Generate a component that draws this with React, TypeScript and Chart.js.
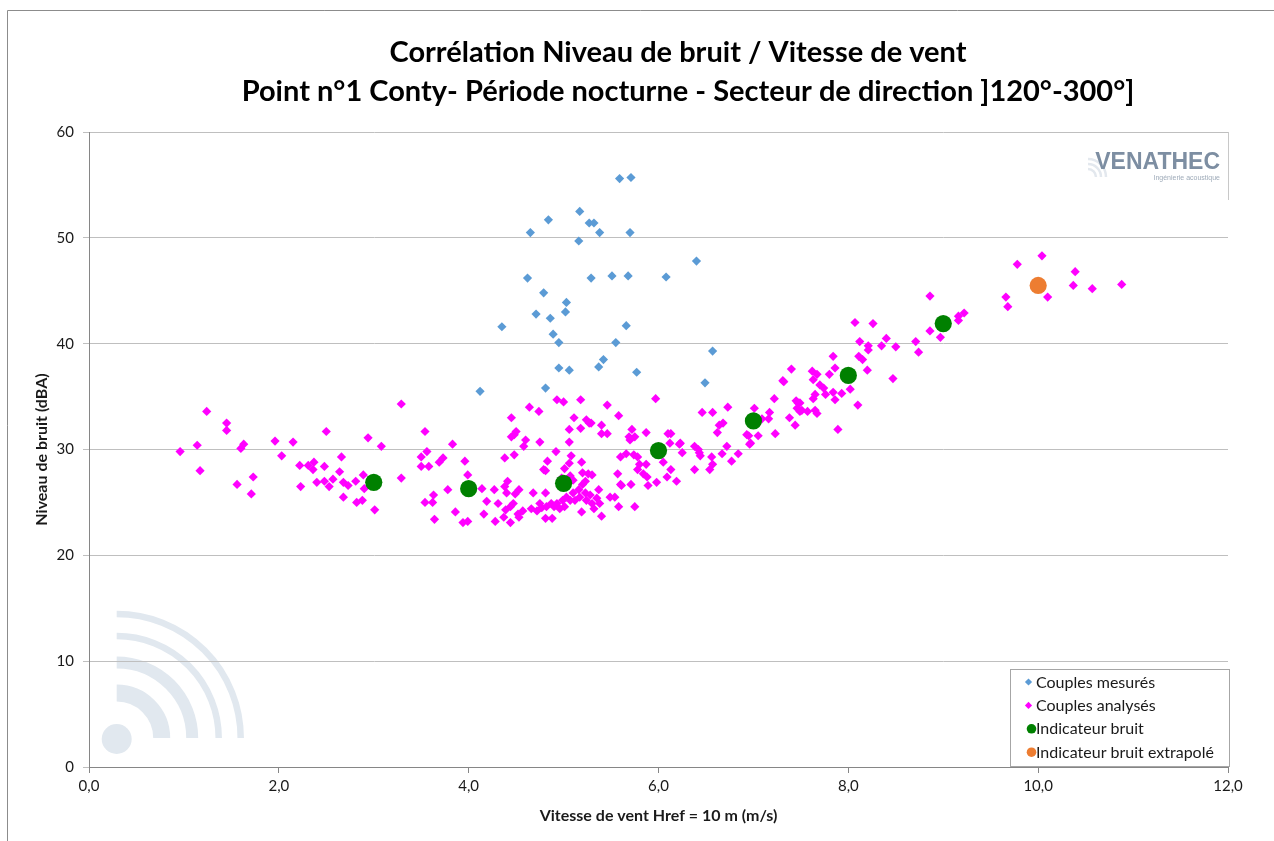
import { useEffect, useRef } from 'react';
import { Chart, registerables } from 'chart.js';

Chart.register(...registerables);

const titleLines = [
  'Corrélation Niveau de bruit / Vitesse de vent',
  'Point n°1 Conty- Période nocturne - Secteur de direction ]120°-300°]',
];
const xAxisTitle = 'Vitesse de vent Href = 10 m (m/s)';
const yAxisTitle = 'Niveau de bruit (dBA)';
const seriesLabels = ['Couples mesurés', 'Couples analysés', 'Indicateur bruit', 'Indicateur bruit extrapolé'];
const logoName = 'VENATHEC';
const logoTagline = 'Ingénierie acoustique';

const xTickMin = 0;
const xTickMax = 12;
const xTickStep = 2;
const yTickMin = 0;
const yTickMax = 60;
const yTickStep = 10;

// [vitesse m/s, niveau dBA]
const couplesMesures: [number, number][] = [
  [5.59, 55.6], [5.71, 55.7], [5.17, 52.5], [4.84, 51.7], [5.27, 51.4], [5.32, 51.4],
  [5.38, 50.5], [4.65, 50.5], [5.70, 50.5], [5.16, 49.7], [6.40, 47.8], [4.62, 46.2],
  [5.29, 46.2], [5.51, 46.4], [5.68, 46.4], [6.08, 46.3], [4.79, 44.8], [5.03, 43.9],
  [5.02, 43.0], [4.71, 42.8], [4.86, 42.4], [4.35, 41.6], [5.66, 41.7], [4.89, 40.9],
  [4.95, 40.1], [5.55, 40.1], [6.57, 39.3], [5.42, 38.5], [5.37, 37.8], [4.95, 37.7],
  [5.06, 37.5], [5.77, 37.3], [6.49, 36.3], [4.81, 35.8], [4.12, 35.5],
];

const couplesAnalyses: [number, number][] = [
  [1.24, 33.6], [1.45, 32.5], [1.45, 31.8], [0.96, 29.8], [1.14, 30.4], [1.17, 28.0],
  [1.63, 30.5], [1.60, 30.1], [1.56, 26.7], [1.73, 27.4], [1.71, 25.8], [1.96, 30.8],
  [2.03, 29.4], [2.15, 30.7], [2.50, 31.7], [2.22, 28.5], [2.31, 28.5], [2.37, 28.8],
  [2.36, 28.1], [2.48, 28.4], [2.23, 26.5], [2.40, 26.9], [2.48, 27.0], [2.53, 26.5],
  [2.66, 29.3], [2.64, 27.9], [2.57, 27.2], [2.68, 26.9], [2.73, 26.6], [2.81, 27.0],
  [2.89, 27.6], [2.90, 26.3], [2.68, 25.5], [2.82, 25.0], [2.88, 25.2], [2.94, 31.1],
  [3.08, 30.3], [3.01, 24.3], [3.29, 34.3], [3.29, 27.3], [3.54, 31.7], [3.56, 29.8],
  [3.50, 29.3], [3.50, 28.4], [3.58, 28.4], [3.83, 30.5], [3.69, 28.8], [3.73, 29.2],
  [3.54, 25.0], [3.62, 25.0], [3.63, 25.7], [3.78, 26.2], [3.64, 23.4], [3.86, 24.1],
  [3.96, 28.9], [3.99, 27.6], [3.94, 23.1], [3.99, 23.2], [4.14, 26.3], [4.19, 25.1],
  [4.16, 23.9], [4.27, 26.2], [4.31, 24.9], [4.28, 23.2],
  [4.93, 34.7], [5.00, 34.5], [5.18, 34.7], [4.64, 34.0], [4.74, 33.6], [4.45, 33.0],
  [5.11, 33.0], [5.24, 32.8], [5.27, 32.5], [5.29, 32.5], [5.18, 32.0], [5.06, 31.9],
  [5.46, 34.2], [5.58, 33.2], [5.40, 32.3], [5.40, 31.5], [5.46, 31.5], [5.97, 34.8],
  [5.72, 31.9], [5.69, 31.2], [5.75, 31.2], [5.87, 31.6], [4.50, 31.7], [4.48, 31.4],
  [4.45, 31.2], [4.60, 30.9], [4.58, 30.3], [4.75, 30.7], [5.06, 30.7], [4.38, 29.2],
  [4.48, 29.5], [4.92, 29.8], [5.08, 29.4], [4.83, 28.9], [5.06, 28.7], [5.19, 28.8],
  [4.79, 28.1], [4.81, 28.0], [5.01, 28.2], [5.20, 27.8], [5.26, 27.7], [5.30, 27.6],
  [5.07, 27.5], [4.98, 27.3], [5.70, 30.9], [5.66, 29.6], [5.74, 29.5], [5.78, 29.3],
  [5.80, 28.6], [5.87, 28.6], [5.60, 29.3], [5.57, 27.7], [5.61, 26.6], [5.71, 26.7],
  [5.78, 28.1], [5.84, 27.7], [5.88, 27.4], [5.89, 26.6], [5.98, 26.9], [6.09, 27.4],
  [6.19, 27.0], [6.13, 31.5], [6.05, 28.8], [6.13, 28.1], [6.22, 30.5], [6.25, 29.7],
  [6.38, 30.3], [6.43, 29.7], [6.46, 33.5], [6.57, 33.5], [6.73, 34.0], [6.64, 32.3],
  [6.68, 32.5], [6.62, 31.6], [6.56, 29.3], [6.57, 28.6], [6.54, 28.1], [6.38, 28.1],
  [6.67, 29.6], [6.72, 30.3], [6.77, 28.9], [6.84, 29.6], [6.95, 31.3], [6.96, 30.5],
  [7.01, 33.9], [7.05, 31.3], [7.17, 33.5], [7.16, 32.9], [7.23, 31.5], [7.22, 34.8],
  [7.31, 36.5], [7.40, 37.6], [7.38, 33.0], [7.44, 32.3], [7.45, 34.6], [7.46, 33.9],
  [4.40, 25.9], [4.39, 24.3], [4.44, 24.6], [4.37, 23.6], [4.44, 23.1], [4.49, 25.8],
  [4.53, 26.2], [4.47, 24.9], [4.52, 23.9], [4.57, 24.2], [4.53, 23.6], [4.38, 26.5],
  [4.41, 27.0], [4.66, 24.4], [4.72, 24.2], [4.75, 24.9], [4.77, 24.5], [4.81, 25.9],
  [4.82, 24.6], [4.87, 24.9], [4.88, 23.5], [4.90, 24.6], [4.93, 24.9], [4.96, 24.4],
  [4.99, 25.2], [5.01, 24.6], [5.03, 25.5], [5.07, 25.2], [5.10, 25.9], [5.12, 25.2],
  [5.16, 26.2], [5.17, 25.5], [5.20, 26.7], [5.19, 24.1], [5.23, 25.9], [5.24, 25.2],
  [5.28, 25.7], [5.30, 24.9], [5.32, 24.4], [5.35, 25.4], [5.37, 26.2], [5.38, 24.9],
  [5.40, 23.7], [5.49, 25.5], [5.54, 25.5], [5.58, 24.6], [5.60, 26.7], [5.75, 24.6],
  [5.10, 27.1], [5.23, 27.0], [5.00, 26.8], [4.81, 23.5], [4.68, 25.9],
  [6.23, 30.6], [6.12, 30.6], [6.10, 31.5], [6.44, 29.4], [6.42, 30.0], [7.32, 36.4],
  [7.49, 33.6], [7.47, 34.4], [7.09, 32.9], [6.93, 31.4], [6.97, 30.6],
  [7.49, 34.4], [7.51, 33.7], [7.57, 33.6], [7.65, 33.7], [7.67, 33.4], [7.62, 37.4],
  [7.67, 37.1], [7.63, 36.6], [7.84, 38.8], [7.86, 37.7], [7.80, 37.1], [7.70, 36.1],
  [7.74, 35.8], [7.76, 35.2], [7.65, 35.2], [7.63, 34.8], [7.84, 35.4], [7.86, 34.7],
  [7.93, 35.3], [8.02, 35.7], [7.89, 31.9], [8.10, 34.2], [8.07, 42.0], [8.26, 41.9],
  [8.12, 40.2], [8.21, 39.8], [8.21, 39.4], [8.11, 38.8], [8.15, 38.5], [8.20, 37.5],
  [8.35, 39.8], [8.40, 40.5], [8.50, 39.7], [8.47, 36.7], [8.71, 40.2], [8.74, 39.2],
  [8.86, 44.5], [8.86, 41.2], [8.97, 40.6], [9.16, 42.6], [9.16, 42.2], [9.22, 42.9],
  [9.66, 44.4], [9.68, 43.5], [9.78, 47.5], [10.04, 48.3], [10.10, 44.4], [10.39, 46.8],
  [10.37, 45.5], [10.57, 45.2], [10.88, 45.6],
];

const indicateurVitesses = [3, 4, 5, 6, 7, 8, 9];
const indicateurNiveaux = [26.9, 26.3, 26.8, 29.9, 32.7, 37.0, 41.9];
const extrapoleVitesses = [10];
const extrapoleNiveaux = [45.5];

const seriesColors = ['#5b9bd5', '#ff00ff', '#008000', '#ed7d31'];
const FONT = 'Lato, "Open Sans", sans-serif';

const decorPlugin = {
  id: 'decor',
  beforeDraw(chart: any) {
    const { ctx, chartArea, width, height } = chart;
    ctx.save();
    ctx.fillStyle = '#ffffff';
    ctx.fillRect(0, 0, width, height);
    // outer frame
    ctx.strokeStyle = '#8c8c8c';
    ctx.lineWidth = 1;
    ctx.beginPath();
    ctx.moveTo(7.5, height);
    ctx.lineTo(7.5, 10.5);
    ctx.lineTo(width, 10.5);
    ctx.stroke();

    // watermark waves
    const cx = chartArea.left + 27.7;
    const cy = chartArea.bottom - 29;
    ctx.fillStyle = '#e1e8ef';
    ctx.strokeStyle = '#e1e8ef';
    ctx.beginPath();
    ctx.arc(cx, cy + 1, 15, 0, Math.PI * 2);
    ctx.fill();
    const waves = [[124, 6.5], [102, 6.5], [75.5, 12], [45, 17]];
    ctx.lineCap = 'butt';
    for (const [r, w] of waves) {
      ctx.lineWidth = w;
      ctx.beginPath();
      ctx.arc(cx, cy, r, -Math.PI / 2, 0);
      ctx.stroke();
    }

    // logo top right
    const lx = chartArea.right - 8;
    const ly = chartArea.top + 37;
    ctx.strokeStyle = '#e3e8ee';
    ctx.lineWidth = 2.5;
    for (const r of [8, 13, 18]) {
      ctx.beginPath();
      ctx.arc(1088, ly + 8, r, -Math.PI / 2, 0);
      ctx.stroke();
    }
    ctx.fillStyle = '#7d8ea2';
    ctx.font = 'bold 23px "Liberation Sans", Arial, sans-serif';
    ctx.textAlign = 'right';
    ctx.textBaseline = 'alphabetic';
    ctx.fillText(logoName, lx, ly);
    ctx.fillStyle = '#9fabb9';
    ctx.font = '7px "Liberation Sans", Arial, sans-serif';
    ctx.fillText(logoTagline, lx, ly + 11);
    ctx.strokeStyle = '#c8c8c8';
    ctx.lineWidth = 1;
    ctx.beginPath();
    ctx.moveTo(chartArea.right + 0.5, chartArea.top);
    ctx.lineTo(chartArea.right + 0.5, chartArea.top + 68);
    ctx.stroke();
    ctx.restore();
  },
  afterDraw(chart: any) {
    const { ctx, chartArea } = chart;
    ctx.save();
    // title
    ctx.fillStyle = '#000000';
    ctx.textAlign = 'center';
    ctx.textBaseline = 'middle';
    ctx.font = `bold 29px ${FONT}`;
    ctx.fillText(titleLines[0], 678, 53, 585);
    ctx.fillText(titleLines[1], 688, 92, 913);

    // legend
    const bx = chartArea.right - 218;
    const by = chartArea.bottom - 98;
    ctx.fillStyle = '#ffffff';
    ctx.fillRect(bx, by, 219, 97);
    ctx.strokeStyle = '#a6a6a6';
    ctx.lineWidth = 1;
    ctx.strokeRect(bx + 0.5, by + 0.5, 219, 97);
    const ds = chart.data.datasets;
    ctx.font = `16px ${FONT}`;
    ctx.textAlign = 'left';
    ctx.textBaseline = 'middle';
    ds.forEach((d: any, i: number) => {
      const y = by + 13 + i * 23.4;
      ctx.fillStyle = d.backgroundColor;
      ctx.beginPath();
      if (d.pointStyle === 'rectRot') {
        const mx = bx + 18.5;
        const r = 3.6;
        ctx.moveTo(mx, y - r);
        ctx.lineTo(mx + r, y);
        ctx.lineTo(mx, y + r);
        ctx.lineTo(mx - r, y);
        ctx.closePath();
      } else {
        ctx.arc(bx + 21.5, y, 4.8, 0, Math.PI * 2);
      }
      ctx.fill();
      ctx.fillStyle = '#1a1a1a';
      ctx.fillText(d.label, bx + 26, y + 0.5);
    });
    ctx.restore();
  },
};

export default function App() {
  const canvasRef = useRef<HTMLCanvasElement | null>(null);

  useEffect(() => {
    const canvas = canvasRef.current;
    if (!canvas) return;
    const chart = new Chart(canvas, {
      type: 'scatter',
      data: {
        datasets: [
          {
            label: seriesLabels[0],
            data: couplesMesures.map(([x, y]) => ({ x, y })),
            backgroundColor: seriesColors[0],
            borderWidth: 0,
            pointStyle: 'rectRot',
            pointRadius: 4.6,
            order: 4,
          },
          {
            label: seriesLabels[1],
            data: couplesAnalyses.map(([x, y]) => ({ x, y })),
            backgroundColor: seriesColors[1],
            borderWidth: 0,
            pointStyle: 'rectRot',
            pointRadius: 4.6,
            order: 3,
          },
          {
            label: seriesLabels[2],
            data: indicateurVitesses.map((x, i) => ({ x, y: indicateurNiveaux[i] })),
            backgroundColor: seriesColors[2],
            borderWidth: 0,
            pointStyle: 'circle',
            pointRadius: 8.6,
            order: 2,
          },
          {
            label: seriesLabels[3],
            data: extrapoleVitesses.map((x, i) => ({ x, y: extrapoleNiveaux[i] })),
            backgroundColor: seriesColors[3],
            borderWidth: 0,
            pointStyle: 'circle',
            pointRadius: 8.6,
            order: 1,
          },
        ] as any,
      },
      options: {
        responsive: false,
        animation: false,
        events: [],
        devicePixelRatio: 1,
        layout: { padding: { top: 132, right: 46, bottom: 0, left: 0 } },
        plugins: {
          legend: { display: false },
          title: { display: false },
          tooltip: { enabled: false },
        },
        scales: {
          x: {
            type: 'linear',
            min: xTickMin,
            max: xTickMax,
            afterFit: (scale: any) => {
              scale.height = 74;
            },
            ticks: {
              stepSize: xTickStep,
              padding: 4,
              color: '#1a1a1a',
              font: { family: FONT, size: 15 },
              callback: (v: any) => Number(v).toFixed(1).replace('.', ','),
            },
            grid: {
              drawOnChartArea: false,
              drawTicks: true,
              tickLength: 6,
              tickColor: '#868686',
            },
            border: { display: true, color: '#868686', width: 1 },
            title: {
              display: true,
              text: xAxisTitle,
              color: '#1a1a1a',
              font: { family: FONT, size: 16, weight: 'bold' },
              padding: { top: 0, bottom: 15.4 },
            },
          },
          y: {
            type: 'linear',
            min: yTickMin,
            max: yTickMax,
            afterFit: (scale: any) => {
              scale.width = 89;
            },
            ticks: {
              stepSize: yTickStep,
              padding: 9,
              color: '#1a1a1a',
              font: { family: FONT, size: 15 },
            },
            grid: {
              color: '#bfbfbf',
              lineWidth: 1,
              drawTicks: true,
              tickLength: 6,
              tickColor: '#bfbfbf',
            },
            border: { display: true, color: '#868686', width: 1 },
            title: {
              display: true,
              text: yAxisTitle,
              color: '#1a1a1a',
              font: { family: FONT, size: 16, weight: 'bold' },
              padding: { top: 32.4, bottom: 0 },
            },
          },
        },
      } as any,
      plugins: [decorPlugin],
    });
    return () => chart.destroy();
  }, []);

  return (
    <div style={{ position: 'fixed', left: 0, top: 0, width: 1274, height: 841, background: '#ffffff' }}>
      <canvas ref={canvasRef} width={1274} height={841} style={{ display: 'block', width: 1274, height: 841 }} />
    </div>
  );
}
